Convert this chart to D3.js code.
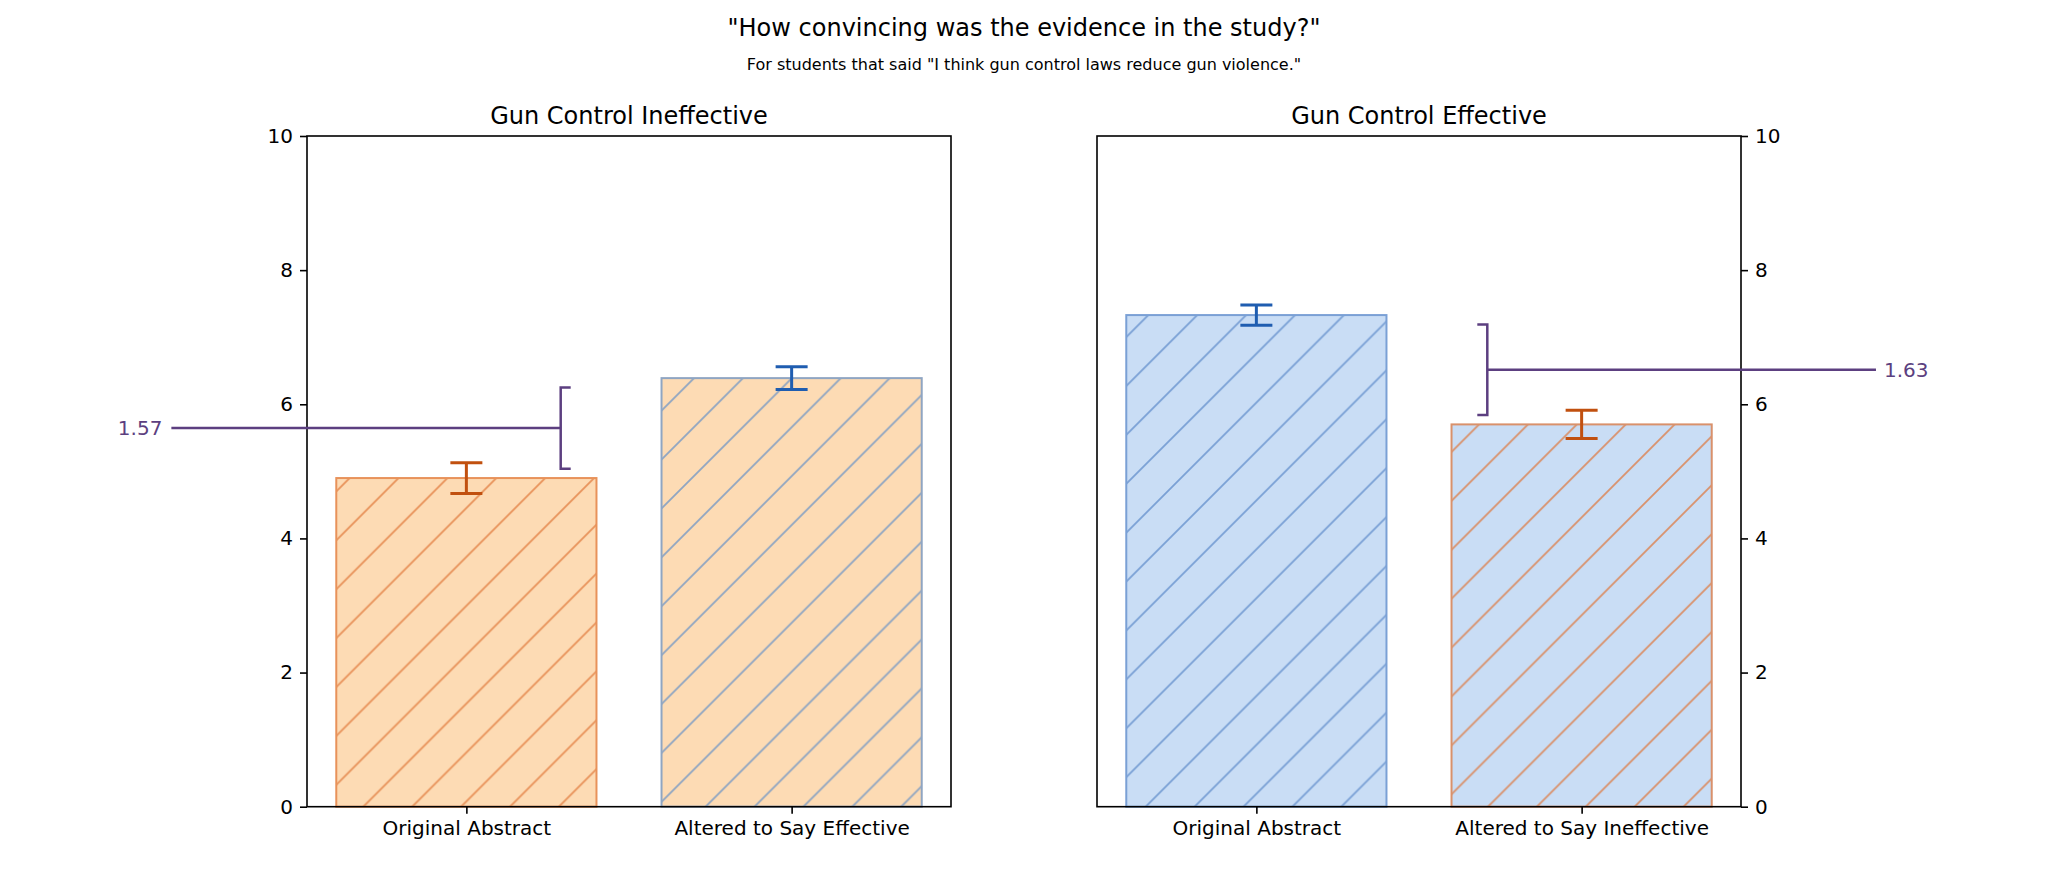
<!DOCTYPE html>
<html>
<head>
<meta charset="utf-8">
<script src="https://cdn.jsdelivr.net/npm/d3@7"></script>
<style>
  html, body { margin: 0; padding: 0; background: #fff; }
  svg { display: block; font-family: "DejaVu Sans", sans-serif; }
</style>
</head>
<body>
<div id="chart"></div>
<script>
// ---------------- data ----------------
const suptitle = '"How convincing was the evidence in the study?"';
const subtitle = 'For students that said "I think gun control laws reduce gun violence."';
const panelTitles = ["Gun Control Ineffective", "Gun Control Effective"];
const categoriesLeft = ["Original Abstract", "Altered to Say Effective"];
const categoriesRight = ["Original Abstract", "Altered to Say Ineffective"];
const meansLeft = [4.90, 6.39];
const errorsLeft = [0.23, 0.17];
const meansRight = [7.33, 5.70];
const errorsRight = [0.15, 0.21];
const diffLabels = ["1.57", "1.63"];
const yTicks = [0, 2, 4, 6, 8, 10];

// ---------------- styles ----------------
const W = 2048, H = 878;
const orange = { fill: "#fddbb4", hatchOnOrange: "#e8925a", err: "#c1500f" };
const blue = { fill: "#c9ddf5", hatchOnBlue: "#7aa0d5", err: "#1f5db0" };
const barStyles = [
  [{ fill: orange.fill, line: orange.hatchOnOrange, err: orange.err },
   { fill: orange.fill, line: "#8fa5c2", err: blue.err }],
  [{ fill: blue.fill, line: blue.hatchOnBlue, err: blue.err },
   { fill: blue.fill, line: "#d9916b", err: orange.err }]
];
const purple = "#5c3f80";

const svg = d3.select("#chart").append("svg")
  .attr("width", W).attr("height", H);

// hatch patterns
const P = 48.9, phase = 45.3;
const defs = svg.append("defs");
barStyles.forEach((row, pi) => row.forEach((st, bi) => {
  const pat = defs.append("pattern")
    .attr("id", `hatch-${pi}-${bi}`)
    .attr("patternUnits", "userSpaceOnUse")
    .attr("x", phase).attr("y", 0)
    .attr("width", P).attr("height", P);
  pat.append("rect").attr("width", P).attr("height", P).attr("fill", st.fill);
  pat.append("path")
    .attr("d", `M-2,2 L2,-2 M0,${P} L${P},0 M${P-2},${P+2} L${P+2},${P-2}`)
    .attr("stroke", st.line).attr("stroke-width", 1.8).attr("fill", "none");
}));

// figure titles
svg.append("text").attr("x", 1024).attr("y", 36)
  .attr("text-anchor", "middle").attr("font-size", 24).attr("fill", "#000")
  .text(suptitle);
svg.append("text").attr("x", 1024).attr("y", 70)
  .attr("text-anchor", "middle").attr("font-size", 16).attr("fill", "#000")
  .text(subtitle);

const axTop = 136, axBottom = 806.7;
const y = d3.scaleLinear().domain([0, 10]).range([axBottom, axTop]);

const panels = [
  { x0: 307, x1: 951, cats: categoriesLeft, means: meansLeft, errs: errorsLeft,
    side: "left", bracketX: 0.29, tipDir: 1, lineEnd: -0.907, label: diffLabels[0] },
  { x0: 1097, x1: 1741, cats: categoriesRight, means: meansRight, errs: errorsRight,
    side: "right", bracketX: 0.71, tipDir: -1, lineEnd: 1.905, label: diffLabels[1] }
];

panels.forEach((p, pi) => {
  const x = d3.scaleLinear().domain([-0.49, 1.49]).range([p.x0, p.x1]);
  const g = svg.append("g");
  const bw = 0.8;

  // bars
  g.selectAll("rect.bar").data(p.means).join("rect")
    .attr("class", "bar")
    .attr("x", (d, i) => x(i - bw / 2))
    .attr("width", (d, i) => x(i + bw / 2) - x(i - bw / 2))
    .attr("y", d => y(d))
    .attr("height", d => y(0) - y(d))
    .attr("fill", (d, i) => `url(#hatch-${pi}-${i})`)
    .attr("stroke", (d, i) => barStyles[pi][i].line)
    .attr("stroke-width", 2);

  // error bars
  p.means.forEach((m, i) => {
    const e = p.errs[i], c = barStyles[pi][i].err, cx = x(i);
    g.append("line").attr("x1", cx).attr("x2", cx)
      .attr("y1", y(m - e)).attr("y2", y(m + e))
      .attr("stroke", c).attr("stroke-width", 3);
    [m - e, m + e].forEach(v => {
      g.append("line").attr("x1", cx - 16).attr("x2", cx + 16)
        .attr("y1", y(v)).attr("y2", y(v))
        .attr("stroke", c).attr("stroke-width", 3);
    });
  });

  // frame
  g.append("rect").attr("x", p.x0).attr("y", axTop)
    .attr("width", p.x1 - p.x0).attr("height", axBottom - axTop)
    .attr("fill", "none").attr("stroke", "#000").attr("stroke-width", 1.6);

  // x axis
  const xAxis = d3.axisBottom(x).tickValues([0, 1])
    .tickFormat(i => p.cats[i]).tickSize(7).tickPadding(7);
  const xa = g.append("g").attr("transform", `translate(0,${axBottom})`).call(xAxis);
  xa.select(".domain").remove();
  xa.selectAll("line").attr("stroke-width", 1.6);
  xa.selectAll("text").attr("font-size", 20).attr("font-family", "DejaVu Sans").attr("fill", "#000");

  // y axis
  const yAxis = (p.side === "left" ? d3.axisLeft(y) : d3.axisRight(y))
    .tickValues(yTicks).tickFormat(d3.format("d")).tickSize(7).tickPadding(7);
  const ya = g.append("g")
    .attr("transform", `translate(${p.side === "left" ? p.x0 : p.x1},0)`).call(yAxis);
  ya.select(".domain").remove();
  ya.selectAll("line").attr("stroke-width", 1.6);
  ya.selectAll("text").attr("font-size", 20).attr("font-family", "DejaVu Sans").attr("fill", "#000");

  // panel title
  g.append("text").attr("x", (p.x0 + p.x1) / 2).attr("y", 124)
    .attr("text-anchor", "middle").attr("font-size", 24).attr("fill", "#000")
    .text(panelTitles[pi]);

  // bracket and difference label
  const lo = Math.min(...p.means) + 0.14, hi = Math.max(...p.means) - 0.14;
  const mid = (lo + hi) / 2;
  const bx = x(p.bracketX), tip = 10 * p.tipDir;
  g.append("path")
    .attr("d", `M${bx + tip},${y(hi)} L${bx},${y(hi)} L${bx},${y(lo)} L${bx + tip},${y(lo)}`)
    .attr("fill", "none").attr("stroke", purple).attr("stroke-width", 2.5);
  g.append("line").attr("x1", bx).attr("x2", x(p.lineEnd))
    .attr("y1", y(mid)).attr("y2", y(mid))
    .attr("stroke", purple).attr("stroke-width", 2.5);
  g.append("text")
    .attr("x", x(p.lineEnd) + (p.side === "left" ? -9 : 8))
    .attr("y", y(mid)).attr("dy", "0.36em")
    .attr("text-anchor", p.side === "left" ? "end" : "start")
    .attr("font-size", 20).attr("fill", purple)
    .text(p.label);
});
</script>
</body>
</html>
